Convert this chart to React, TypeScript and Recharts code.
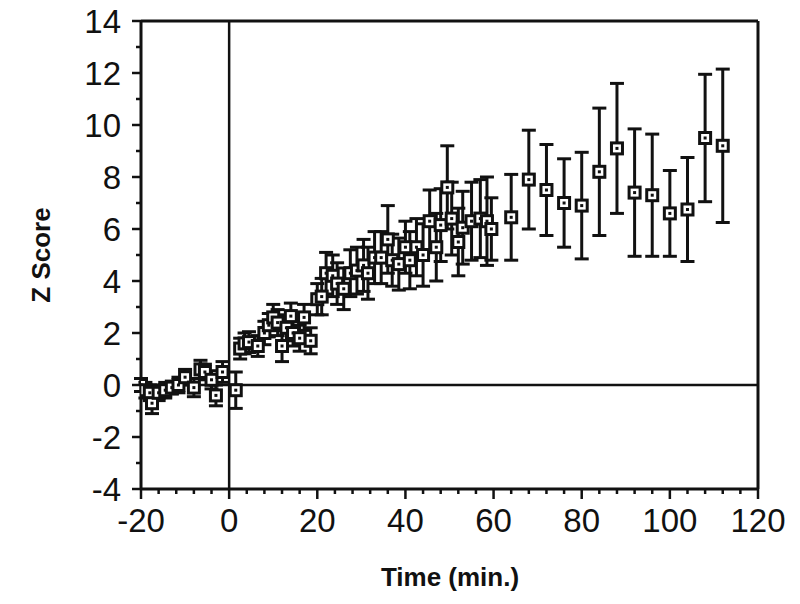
import { ScatterChart, Scatter, XAxis, YAxis, ErrorBar, ReferenceLine } from "recharts";

// sampling times (min), mean z score and its error
const times = [
  -20, -19, -18, -17.5, -16, -14.5, -13, -11.5, -10, -8, -6.5, -5.5, -4, -3, -1.5, 1.5,
  2.5, 3.5, 4.5, 6.5, 8, 9, 10, 11, 12, 13, 14, 14.5, 16, 17, 18.5,
  20, 21, 22, 23.5, 24.5, 26, 27.5, 29, 30.5, 31.5, 33, 34.5, 36, 37, 38.5,
  40, 41, 42.5, 44, 45.5, 47, 48, 49.5, 50.5, 52, 53, 55, 57, 58.5, 59.5,
  64, 68, 72, 76, 80, 84, 88, 92, 96, 100, 104, 108, 112,
];
const zScores = [
  0.0, -0.2, -0.3, -0.7, -0.3, -0.2, -0.1, 0.0, 0.3, -0.1, 0.6, 0.5, 0.2, -0.4, 0.5, -0.2,
  1.4, 1.6, 1.65, 1.5, 2.0, 2.3, 2.6, 2.4, 1.5, 2.2, 2.65, 2.0, 1.8, 2.6, 1.7,
  3.3, 3.4, 4.3, 4.2, 3.9, 3.7, 4.3, 4.4, 4.6, 4.3, 4.9, 4.9, 5.6, 4.8, 4.65,
  5.3, 4.8, 5.3, 5.0, 6.3, 5.3, 6.15, 7.6, 6.4, 5.5, 6.05, 6.3, 6.4, 6.3, 6.0,
  6.45, 7.9, 7.5, 7.0, 6.9, 8.2, 9.1, 7.4, 7.3, 6.6, 6.75, 9.5, 9.2,
];
const errors = [
  0.25, 0.3, 0.3, 0.4, 0.3, 0.3, 0.25, 0.3, 0.3, 0.35, 0.35, 0.3, 0.35, 0.4, 0.4, 0.7,
  0.4, 0.4, 0.4, 0.4, 0.45, 0.45, 0.5, 0.5, 0.6, 0.5, 0.5, 0.5, 0.5, 0.5, 0.5,
  0.6, 0.7, 0.8, 0.8, 0.8, 0.8, 0.9, 0.9, 1.0, 1.0, 1.0, 1.0, 1.3, 1.0, 1.0,
  1.0, 1.1, 1.1, 1.2, 1.2, 1.3, 1.4, 1.6, 1.4, 1.3, 1.4, 1.5, 1.5, 1.7, 1.2,
  1.65, 1.9, 1.75, 1.7, 2.05, 2.45, 2.5, 2.45, 2.35, 1.65, 2.0, 2.45, 2.95,
];

const xTicks = [
  -20, -16, -12, -8, -4, 0, 4, 8, 12, 16, 20, 24, 28, 32, 36, 40, 44, 48, 52, 56,
  60, 64, 68, 72, 76, 80, 84, 88, 92, 96, 100, 104, 108, 112, 116, 120,
];
const yTicks = [-4, -3, -2, -1, 0, 1, 2, 3, 4, 5, 6, 7, 8, 9, 10, 11, 12, 13, 14];

const points = times.map((t, i) => ({ t, z: zScores[i], err: errors[i] }));

const INK = "#111";
const FONT = "'Liberation Sans', Arial, Helvetica, sans-serif";

const XTick = (props: any) => {
  const { x, y, payload } = props;
  const v = payload.value;
  const major = v % 20 === 0;
  return (
    <g>
      <line x1={x} x2={x} y1={y} y2={y + (major ? 10 : 5)} stroke={INK} strokeWidth={2.5} />
      {major && (
        <text x={x} y={y + 43} textAnchor="middle" fontSize={33} fontFamily={FONT} fill={INK}>
          {v}
        </text>
      )}
    </g>
  );
};

const YTick = (props: any) => {
  const { x, y, payload } = props;
  const v = payload.value;
  const major = v % 2 === 0;
  return (
    <g>
      <line x1={x} x2={x - (major ? 9 : 5)} y1={y} y2={y} stroke={INK} strokeWidth={2.5} />
      {major && (
        <text x={x - 20} y={y} dy="0.36em" textAnchor="end" fontSize={33} fontFamily={FONT} fill={INK}>
          {v}
        </text>
      )}
    </g>
  );
};

const Marker = (props: any) => {
  const { cx, cy } = props;
  if (cx == null || cy == null) return null;
  return (
    <g>
      <rect x={cx - 5.5} y={cy - 5.5} width={11} height={11} fill="#fff" stroke={INK} strokeWidth={3} />
      <rect x={cx - 1.5} y={cy - 1.5} width={3} height={3} fill={INK} />
    </g>
  );
};

export default function App() {
  return (
    <div style={{ position: "absolute", left: 0, top: 0, background: "#fff" }}>
      <ScatterChart width={800} height={604} margin={{ top: 21, right: 42, bottom: 0, left: 0 }}>
        <XAxis
          type="number"
          dataKey="t"
          domain={[-20, 120]}
          ticks={xTicks}
          interval={0}
          height={115}
          tickSize={0}
          tickMargin={0}
          tickLine={false}
          tick={<XTick />}
          axisLine={{ stroke: INK, strokeWidth: 3 }}
          allowDataOverflow
          label={{
            content: () => (
              <text x={450} y={586} textAnchor="middle" fontSize={26} fontWeight="bold" fontFamily={FONT} fill={INK}>
                Time (min.)
              </text>
            ),
          }}
        />
        <YAxis
          type="number"
          dataKey="z"
          domain={[-4, 14]}
          ticks={yTicks}
          interval={0}
          width={141}
          tickSize={0}
          tickMargin={0}
          tickLine={false}
          tick={<YTick />}
          axisLine={{ stroke: INK, strokeWidth: 3 }}
          allowDataOverflow
          label={{
            content: () => (
              <text
                x={41}
                y={255}
                transform="rotate(-90, 41, 255)"
                textAnchor="middle"
                dominantBaseline="central"
                fontSize={26}
                fontWeight="bold"
                fontFamily={FONT}
                fill={INK}
              >
                Z Score
              </text>
            ),
          }}
        />
        <ReferenceLine x={0} stroke={INK} strokeWidth={2.5} />
        <ReferenceLine y={0} stroke={INK} strokeWidth={2.5} />
        <ReferenceLine x={120} stroke={INK} strokeWidth={3} />
        <ReferenceLine y={14} stroke={INK} strokeWidth={3} />
        <Scatter data={points} shape={<Marker />} isAnimationActive={false}>
          <ErrorBar dataKey="err" direction="y" width={7} stroke={INK} strokeWidth={3} />
        </Scatter>
      </ScatterChart>
    </div>
  );
}
